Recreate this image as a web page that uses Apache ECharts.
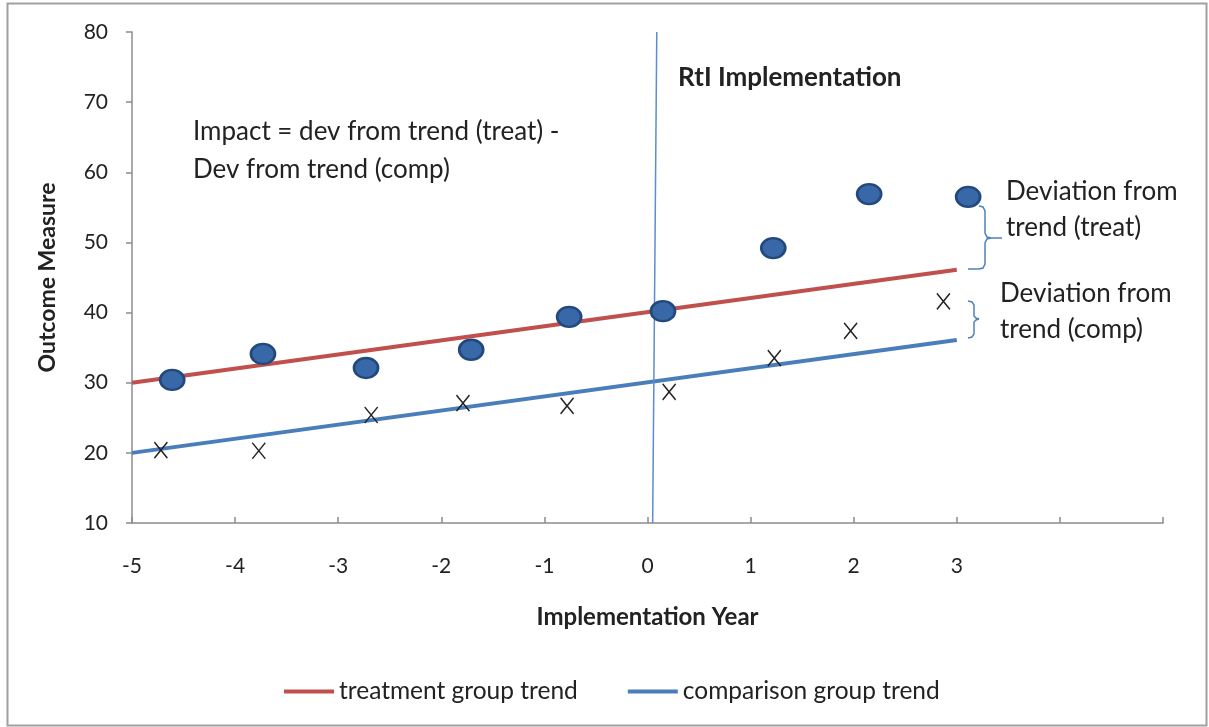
<!DOCTYPE html>
<html>
<head>
<meta charset="utf-8">
<script src="https://cdn.jsdelivr.net/npm/echarts@6/dist/echarts.min.js"></script>
<style>
html,body{margin:0;padding:0;background:#fff;}
#c{width:1209px;height:727px;}
</style>
</head>
<body>
<div id="c"></div>
<script>
// ---- data ----
var treatX = [-4.61, -3.73, -2.73, -1.71, -0.76, 0.15, 1.22, 2.15, 3.11];
var treatY = [30.4, 34.1, 32.1, 34.7, 39.4, 40.2, 49.2, 56.9, 56.5];
var compX = [-4.72, -3.77, -2.68, -1.79, -0.78, 0.21, 1.23, 1.97, 2.87];
var compY = [20.4, 20.3, 25.4, 27.1, 26.7, 28.7, 33.5, 37.4, 41.6];
var trendX = [-5, 3];
var treatTrendY = [30, 46.1];
var compTrendY = [20, 36.1];
var implLineX = [0.09, 0.05];
var implLineY = [80, 10];
var seriesNames = ['treatment group trend', 'comparison group trend'];

function pairs(xs, ys){ return xs.map(function(x,i){ return [x, ys[i]]; }); }

var FONT = 'Lato';
var braceStyle = {fill: 'none', stroke: '#4f81bd', lineWidth: 1.5};
function txt(x, y, s, font){
  return {type: 'text', x: x, y: y, style: {text: s, font: font, fill: '#222', textVerticalAlign: 'middle', verticalAlign: 'middle'}};
}
var chart = echarts.init(document.getElementById('c'), null, {renderer:'canvas'});
var option = {
  backgroundColor: '#fff',
  animation: false,
  textStyle: {fontFamily: FONT},
  grid: {left: 132, right: 46, top: 32, bottom: 204, containLabel: false},
  legend: {
    left: 279, top: 674,
    itemWidth: 50, itemHeight: 4, itemGap: 50,
    icon: 'rect',
    textStyle: {fontFamily: FONT, fontSize: 24.5, color: '#222'},
    data: seriesNames
  },
  xAxis: {
    type: 'value', min: -5, max: 5, interval: 1,
    name: 'Implementation Year', nameLocation: 'middle', nameGap: 82,
    nameTextStyle: {fontFamily: FONT, fontSize: 24, fontWeight: 'bold', color: '#222'},
    axisLine: {onZero: false, lineStyle: {color: '#8c8c8c', width: 1.5}},
    axisTick: {inside: true, length: 6, lineStyle: {color: '#8c8c8c', width: 1.5}},
    axisLabel: {margin: 33, fontSize: 21, color: '#222', fontFamily: FONT,
      formatter: function(v){ return v <= 3 ? String(v) : ''; }},
    splitLine: {show: false}
  },
  yAxis: {
    type: 'value', min: 10, max: 80, interval: 10,
    name: 'Outcome Measure', nameLocation: 'middle', nameGap: 73,
    nameTextStyle: {fontFamily: FONT, fontSize: 23, fontWeight: 'bold', color: '#222'},
    axisLine: {show: true, onZero: false, lineStyle: {color: '#8c8c8c', width: 1.5}},
    axisTick: {show: true, length: 6, lineStyle: {color: '#8c8c8c', width: 1.5}},
    axisLabel: {margin: 24, fontSize: 21, color: '#222', fontFamily: FONT},
    splitLine: {show: false}
  },
  series: [
    {
      name: seriesNames[0], type: 'line', data: pairs(trendX, treatTrendY),
      symbol: 'none', lineStyle: {color: '#c0504d', width: 4}, itemStyle: {color: '#c0504d'}, z: 2
    },
    {
      name: seriesNames[1], type: 'line', data: pairs(trendX, compTrendY),
      symbol: 'none', lineStyle: {color: '#4a7ebb', width: 4}, itemStyle: {color: '#4a7ebb'}, z: 2,
      markLine: {
        silent: true, symbol: 'none', label: {show: false},
        lineStyle: {color: '#5b8dd0', width: 1.5, type: 'solid'},
        data: [[{coord: [implLineX[0], implLineY[0]]}, {coord: [implLineX[1], implLineY[1]]}]]
      }
    },
    {
      name: 'treatment', type: 'scatter', data: pairs(treatX, treatY),
      symbol: 'circle', symbolSize: [24, 20],
      itemStyle: {color: '#3868a8', borderColor: '#23497c', borderWidth: 2.5, opacity: 1}, z: 5
    },
    {
      name: 'comparison', type: 'scatter', data: pairs(compX, compY),
      symbol: 'path://M0,0L10,12M10,0L0,12', symbolSize: [13, 16],
      itemStyle: {color: 'none', borderColor: '#222', borderWidth: 1.5, opacity: 1}, z: 5
    }
  ],
  graphic: [
    {type: 'rect', shape: {x: 7.5, y: 3.5, width: 1199, height: 722}, style: {fill: 'none', stroke: '#a0a0a0', lineWidth: 2}, silent: true, z: 0},
    txt(678, 78, 'RtI Implementation', 'bold 26px ' + FONT),
    txt(193, 132, 'Impact = dev from trend (treat) -', '26px ' + FONT),
    txt(193, 170, 'Dev from trend (comp)', '26px ' + FONT),
    txt(1006, 192, 'Deviation from', '26px ' + FONT),
    txt(1006, 228, 'trend (treat)', '26px ' + FONT),
    txt(1000, 294, 'Deviation from', '26px ' + FONT),
    txt(1000, 330, 'trend (comp)', '26px ' + FONT),
    {type: 'polyline', shape: {points: [[979,206],[983,207],[985,211],[985,233],[987,237],[991,238],[1002,238]]}, style: braceStyle},
    {type: 'polyline', shape: {points: [[991,238],[987,239],[985,243],[985,264],[983,268],[979,269],[968,269]]}, style: braceStyle},
    {type: 'polyline', shape: {points: [[968,301],[972,302],[974,305],[974,316],[976,318],[979,319]]}, style: braceStyle},
    {type: 'polyline', shape: {points: [[979,319],[976,320],[974,322],[974,334],[972,337],[968,338]]}, style: braceStyle}
  ]
};
chart.setOption(option);
</script>
</body>
</html>
